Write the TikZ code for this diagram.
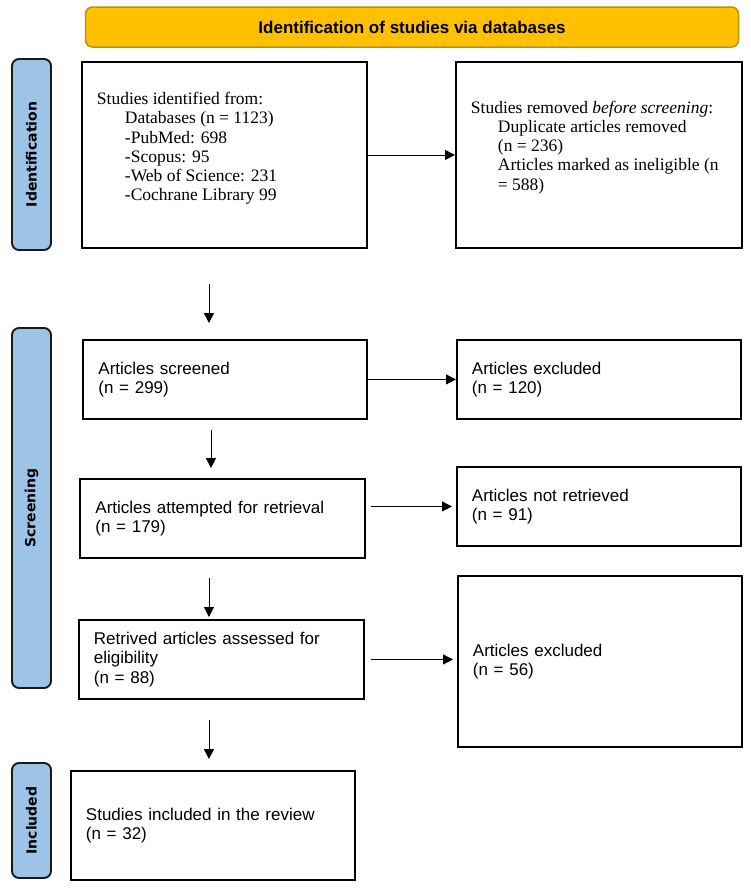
\documentclass[tikz,border=0pt]{standalone}
\usepackage{fontspec}
\setmainfont{Liberation Serif}
\newfontfamily\arialf{Liberation Sans}
\newfontfamily\dejaf{DejaVu Sans}
\usetikzlibrary{arrows.meta,calc}
\definecolor{banfill}{HTML}{FFC000}
\definecolor{banedge}{HTML}{BF9000}
\definecolor{sidefill}{HTML}{9DC3E6}
\tikzset{
  box/.style={draw=black, line width=1.9pt, anchor=north west, inner xsep=15pt, inner ysep=0pt},
  serifbox/.style={box, font=\fontsize{17.5}{19.2}\selectfont},
  sansbox/.style={box, align=left, font=\arialf\fontsize{17}{19.5}\selectfont},
  sidelabel/.style={draw=black!90, line width=1.9pt, fill=sidefill, rounded corners=7pt, rotate=90, minimum height=39pt, inner sep=0pt, font=\dejaf\bfseries\fontsize{14}{16}\selectfont},
  banner/.style={draw=banedge, line width=1.5pt, fill=banfill, rounded corners=7pt, minimum width=653pt, minimum height=40pt, font=\arialf\bfseries\fontsize{17}{19}\selectfont},
  arr/.style={line width=0.9pt, -{Triangle[length=10pt,width=10pt]}}
}
\begin{document}
\begin{tikzpicture}[x=1pt,y=-1pt]
\useasboundingbox (0,0) rectangle (750,889);

\node[banner] (ban) at (412,27) {Identification of studies via databases};

\node[sidelabel, minimum width=191pt] (sid) at (31.5,154.5) {Identification};
\node[sidelabel, minimum width=360pt] (ssc) at (31.5,508) {Screening};
\node[sidelabel, minimum width=115pt] (sin) at (31.5,820.5) {Included};

\node[serifbox, minimum width=285pt, minimum height=186pt] (b1) at (81,61)
{\parbox[c][125pt][t]{255pt}{\raggedright
Studies identified from:\\
\hspace*{28pt}Databases (n = 1123)\\
\hspace*{28pt}-PubMed: 698\\
\hspace*{28pt}-Scopus: 95\\
\hspace*{28pt}-Web of Science: 231\\
\hspace*{28pt}-Cochrane Library 99}};

\node[serifbox, minimum width=284pt, minimum height=186pt] (b2) at (455,61)
{\parbox[c][108pt][t]{256pt}{\raggedright
Studies removed \textit{before screening}:\\
\hspace*{27pt}Duplicate articles removed\\
\hspace*{27pt}(n = 236)\\
\hspace*{27pt}Articles marked as ineligible (n\\
\hspace*{27pt}= 588)}};

\node[sansbox, minimum width=284pt, minimum height=79pt, text width=253pt] (scr) at (82,339)
{Articles screened\\(n = 299)};
\node[sansbox, minimum width=284pt, minimum height=79pt, text width=254pt] (ex1) at (456,339)
{Articles excluded\\(n = 120)};

\node[sansbox, minimum width=285pt, minimum height=79pt, text width=254pt] (att) at (79,478)
{Articles attempted for retrieval\\(n = 179)};
\node[sansbox, minimum width=284pt, minimum height=79pt, text width=254pt] (nrt) at (456,466)
{Articles not retrieved\\(n = 91)};

\node[sansbox, minimum width=285pt, minimum height=79pt, text width=255pt] (ret) at (78,619)
{Retrived articles assessed for\\eligibility\\(n = 88)};
\node[sansbox, minimum width=284pt, minimum height=171pt, text width=254pt] (ex2) at (457,575)
{Articles excluded\\(n = 56)};

\node[sansbox, minimum width=284pt, minimum height=109pt, text width=254pt] (inc) at (70,770)
{Studies included in the review\\(n = 32)};

% horizontal arrows
\draw[arr] (b1.east) -- (b2.west);
\draw[arr] (scr.east) -- (ex1.west);
\draw[arr, shorten <=5pt, shorten >=4pt] (att.east |- nrt.west) -- (nrt.west);
\draw[arr, shorten <=6pt, shorten >=4pt] (ret.east) -- (ret.east -| ex2.west);

% vertical arrows
\draw[arr, shorten <=35pt, shorten >=16pt] ([xshift=-15.5pt]b1.south) -- ([xshift=-15.5pt]b1.south |- scr.north);
\draw[arr, shorten <=10pt, shorten >=10pt] ([xshift=-14pt]scr.south) -- ([xshift=-14pt]scr.south |- att.north);
\draw[arr, shorten <=19pt, shorten >=2pt] ([xshift=-13.5pt]att.south) -- ([xshift=-13.5pt]att.south |- ret.north);
\draw[arr, shorten <=20pt, shorten >=11pt] ([xshift=-12.5pt]ret.south) -- ([xshift=-12.5pt]ret.south |- inc.north);
\end{tikzpicture}
\end{document}
